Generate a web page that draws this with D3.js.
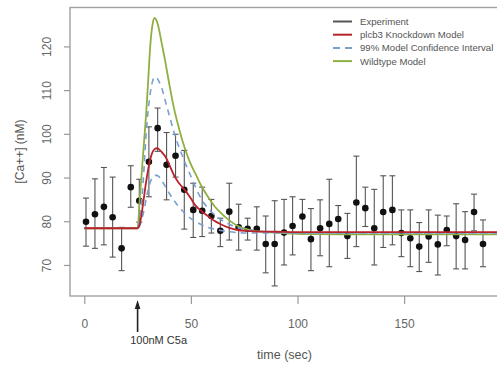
<!DOCTYPE html>
<html>
<head>
<meta charset="utf-8">
<script src="https://cdn.jsdelivr.net/npm/d3@7"></script>
<style>
  html, body { margin: 0; padding: 0; background: #fff; }
  svg { display: block; font-family: "Liberation Sans", Arial, sans-serif; }
</style>
</head>
<body>
<svg id="chart" width="497" height="365"></svg>
<script>
// Measured calcium response (mean and error bar limits, nM)
const expTime = [0.8, 5.0, 9.2, 13.3, 17.5, 21.8, 25.8, 30.3, 34.4, 38.6, 42.8, 46.9, 51.1, 55.3, 59.6,
  63.8, 68.0, 72.4, 76.6, 80.9, 85.1, 89.3, 93.7, 97.7, 102.3, 106.3, 110.6, 114.9, 119.1, 123.4,
  127.6, 131.8, 136.0, 140.2, 144.5, 148.7, 152.9, 157.1, 161.5, 165.8, 170.0, 174.4, 178.6, 182.8, 187.0];
const expMean = [79.9, 81.6, 83.3, 80.9, 73.8, 87.8, 84.7, 93.6, 101.3, 92.9, 95.0, 87.2, 82.6, 82.4, 81.2,
  77.8, 82.2, 78.6, 78.3, 78.3, 74.8, 74.8, 77.4, 78.9, 81.1, 75.9, 78.4, 79.4, 80.5, 76.6,
  84.3, 83.0, 78.4, 82.1, 82.6, 77.3, 76.1, 74.2, 76.5, 74.7, 78.0, 76.6, 75.7, 82.1, 74.8];
const expUpper = [85.3, 89.7, 92.3, 90.1, 78.6, 92.7, 89.6, 101.6, 105.9, 100.3, 99.9, 96.2, 88.7, 87.8, 85.0,
  80.7, 88.7, 83.9, 80.7, 83.3, 81.2, 84.7, 85.0, 85.6, 85.0, 82.9, 84.9, 89.6, 83.6, 81.8,
  94.9, 87.8, 87.3, 90.4, 90.4, 82.6, 82.6, 79.7, 82.6, 81.4, 81.2, 84.0, 82.2, 86.2, 80.3];
const expLower = [74.3, 73.8, 74.6, 71.8, 68.7, 83.2, 79.8, 85.6, 96.0, 84.9, 90.1, 78.2, 76.3, 76.5, 77.3,
  74.2, 75.7, 73.4, 75.7, 73.4, 68.2, 65.2, 70.0, 72.3, 77.1, 68.7, 72.1, 69.6, 77.1, 71.5,
  74.2, 78.8, 70.0, 74.0, 74.6, 71.9, 69.6, 68.5, 70.6, 67.7, 74.4, 69.1, 69.1, 77.8, 69.6];

// Model trajectories
const modelTime = [0, 25, 26, 27, 28, 29, 30, 31, 32, 33, 34, 35, 36, 38, 40, 42, 44, 46, 48, 50,
  52, 55, 58, 61, 64, 68, 72, 76, 80, 90, 100, 120, 150, 195];
const wildtype = [78.4, 78.4, 85, 91.5, 98, 104.5, 112.5, 120.5, 125, 126.5, 125.8, 124, 121.5, 116.5, 111, 106, 102, 98.5, 95.5, 93,
  91, 88, 85.6, 83.5, 81.9, 80.2, 78.9, 78.2, 77.8, 77.4, 77.1, 77.0, 77.0, 77.0];
const ciUpper = [78.4, 78.4, 80.5, 85, 92, 100, 105.5, 109.5, 112, 113, 112.8, 112, 111, 107.5, 104, 100.5, 97.5, 95, 92.5, 90.3,
  88, 85, 83, 81.5, 80.4, 79.3, 78.5, 78.1, 77.8, 77.5, 77.3, 77.3, 77.3, 77.3];
const ciLower = [78.4, 78.4, 79, 80.5, 82.5, 85, 87.3, 89, 90, 90.5, 90.5, 90.2, 89.5, 88, 86.3, 84.8, 83.5, 82.4, 81.4, 80.6,
  80, 79.2, 78.6, 78.2, 77.9, 77.6, 77.4, 77.3, 77.3, 77.3, 77.3, 77.3, 77.3, 77.3];
const knockdown = [78.4, 78.4, 79.3, 82, 85.5, 89, 92, 94.3, 95.8, 96.5, 96.7, 96.5, 96, 94.8, 92.8, 90.6, 89, 87.8, 86.6, 85.2,
  83.7, 82.3, 81.2, 80.1, 79.3, 78.5, 78, 77.8, 77.7, 77.6, 77.5, 77.5, 77.5, 77.5];

const xTicks = [0, 50, 100, 150];
const yTicks = [70, 80, 90, 100, 110, 120];
const stimulusTime = 25;
const stimulusLabel = "100nM C5a";
const legendLabels = ["Experiment", "plcb3  Knockdown Model", "99% Model Confidence Interval", "Wildtype Model"];

const colors = { exp: "#555", knock: "#b8232b", ci: "#7aa0d0", wild: "#8fb040" };

const svg = d3.select("#chart");
const plot = { left: 70, top: 7.5, right: 499, bottom: 296 };

const x = d3.scaleLinear().domain([-6.7, 194.5]).range([plot.left, plot.right]);
const y = d3.scaleLinear().domain([62.9, 128.9]).range([plot.bottom, plot.top]);

// Frame
svg.append("rect")
  .attr("x", plot.left).attr("y", plot.top)
  .attr("width", plot.right - plot.left).attr("height", plot.bottom - plot.top)
  .attr("fill", "none").attr("stroke", "#a0a0a0").attr("stroke-width", 1.4);

// X axis
const gx = svg.append("g")
  .attr("transform", `translate(0,${plot.bottom})`)
  .call(d3.axisBottom(x).tickValues(xTicks).tickSize(8).tickPadding(15).tickFormat(d3.format("d")));
gx.select(".domain").remove();
gx.selectAll(".tick line").attr("stroke", "#999").attr("stroke-width", 1.2);
gx.selectAll(".tick text").attr("fill", "#666").style("font-size", "12px");

// Y axis with rotated labels
const gy = svg.append("g")
  .attr("transform", `translate(${plot.left},0)`)
  .call(d3.axisLeft(y).tickValues(yTicks).tickSize(6).tickFormat(d3.format("d")));
gy.select(".domain").remove();
gy.selectAll(".tick line").attr("stroke", "#999").attr("stroke-width", 1.2);
gy.selectAll(".tick text")
  .attr("x", null).attr("dy", null)
  .attr("text-anchor", "middle")
  .attr("transform", "translate(-19,0) rotate(-90)")
  .attr("fill", "#666").style("font-size", "12px");

// Axis titles
svg.append("text")
  .attr("transform", "translate(23.5,151.5) rotate(-90)")
  .attr("text-anchor", "middle").attr("fill", "#555").style("font-size", "12px")
  .text("[Ca++] (nM)");
svg.append("text")
  .attr("x", 284.5).attr("y", 358.5)
  .attr("text-anchor", "middle").attr("fill", "#555").style("font-size", "12.5px")
  .text("time (sec)");

// Stimulus arrow and label
const ax = x(stimulusTime);
svg.append("line")
  .attr("x1", ax).attr("x2", ax).attr("y1", 307).attr("y2", 332)
  .attr("stroke", "#222").attr("stroke-width", 1.6);
svg.append("path")
  .attr("d", `M${ax},300 L${ax - 2.8},309 L${ax + 2.8},309 Z`)
  .attr("fill", "#222");
svg.append("text")
  .attr("x", ax + 21).attr("y", 344)
  .attr("text-anchor", "middle").attr("fill", "#333").style("font-size", "11px")
  .text(stimulusLabel);

// Experimental data: error bars and points
const exp = expTime.map((t, i) => ({ t, m: expMean[i], lo: expLower[i], hi: expUpper[i] }));
const bars = svg.append("g").attr("stroke", colors.exp).attr("stroke-width", 1.1);
bars.selectAll("line.v").data(exp).join("line").attr("class", "v")
  .attr("x1", d => x(d.t)).attr("x2", d => x(d.t))
  .attr("y1", d => y(d.lo)).attr("y2", d => y(d.hi));
bars.selectAll("line.h").data(exp).join("line").attr("class", "h")
  .attr("x1", d => x(d.t) - 3).attr("x2", d => x(d.t) + 3)
  .attr("y1", d => y(d.hi)).attr("y2", d => y(d.hi));
bars.selectAll("line.l").data(exp).join("line").attr("class", "l")
  .attr("x1", d => x(d.t) - 3).attr("x2", d => x(d.t) + 3)
  .attr("y1", d => y(d.lo)).attr("y2", d => y(d.lo));
svg.append("g").selectAll("circle").data(exp).join("circle")
  .attr("cx", d => x(d.t)).attr("cy", d => y(d.m)).attr("r", 3.3)
  .attr("fill", "#111");

// Model curves
const line = d3.line().x(d => x(d[0])).y(d => y(d[1])).curve(d3.curveMonotoneX);
const series = (vals) => modelTime.map((t, i) => [t, vals[i]]);
svg.append("clipPath").attr("id", "plotclip").append("rect")
  .attr("x", plot.left).attr("y", plot.top)
  .attr("width", plot.right - plot.left).attr("height", plot.bottom - plot.top);
const curves = svg.append("g").attr("clip-path", "url(#plotclip)").attr("fill", "none");
curves.append("path").attr("d", line(series(wildtype)))
  .attr("stroke", colors.wild).attr("stroke-width", 1.8);
curves.append("path").attr("d", line(series(ciUpper)))
  .attr("stroke", colors.ci).attr("stroke-width", 1.6).attr("stroke-dasharray", "6,5");
curves.append("path").attr("d", line(series(ciLower)))
  .attr("stroke", colors.ci).attr("stroke-width", 1.6).attr("stroke-dasharray", "6,5");
curves.append("path").attr("d", line(series(knockdown)))
  .attr("stroke", colors.knock).attr("stroke-width", 1.8);

// Legend
const legend = svg.append("g").attr("transform", "translate(333,21.5)");
const legendStyle = [
  { c: colors.exp, dash: null },
  { c: colors.knock, dash: null },
  { c: colors.ci, dash: "7,5" },
  { c: colors.wild, dash: null }
];
legendLabels.forEach((label, i) => {
  const row = legend.append("g").attr("transform", `translate(0,${i * 13.2})`);
  row.append("line").attr("x1", 0).attr("x2", 19).attr("y1", 0).attr("y2", 0)
    .attr("stroke", legendStyle[i].c).attr("stroke-width", 2)
    .attr("stroke-dasharray", legendStyle[i].dash);
  row.append("text").attr("x", 27).attr("y", 3.4)
    .attr("fill", "#555").style("font-size", "9.6px").text(label);
});
</script>
</body>
</html>
